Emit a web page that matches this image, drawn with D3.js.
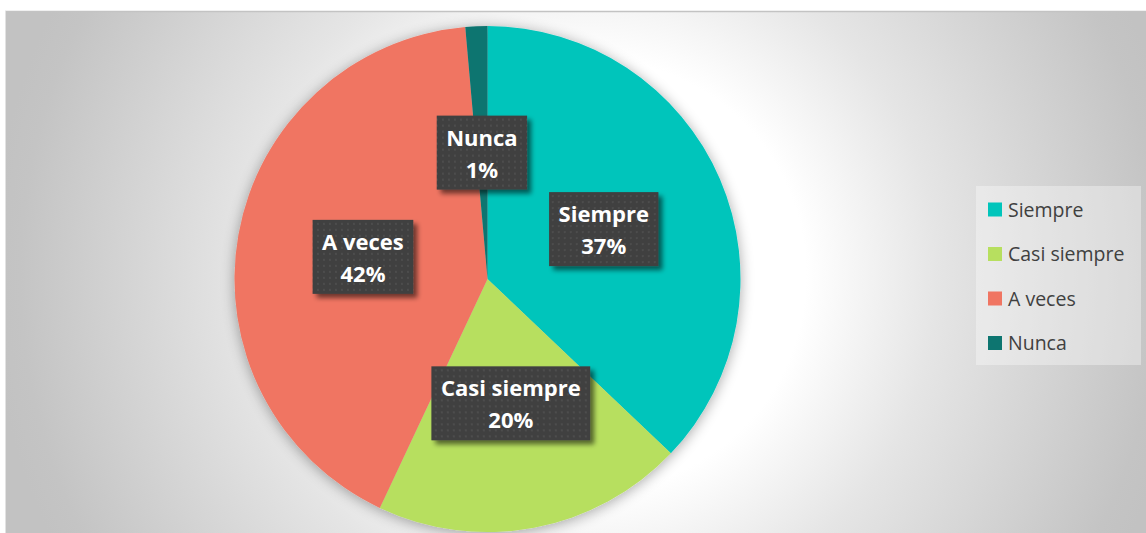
<!DOCTYPE html>
<html>
<head>
<meta charset="utf-8">
<script src="https://cdn.jsdelivr.net/npm/d3@7"></script>
<style>
  html, body { margin: 0; padding: 0; background: #ffffff; }
  svg { display: block; }
</style>
</head>
<body>
<svg id="chart" width="1146" height="533"></svg>
<script>
// ---- data ----
const categories = ["Siempre", "Casi siempre", "A veces", "Nunca"];
const values = [37.1, 19.9, 41.6, 1.4];
const percentLabels = ["37%", "20%", "42%", "1%"];
const colors = ["#01C5BB", "#B7DF5F", "#F07562", "#0D7570"];

// ---- layout ----
const W = 1146, H = 533;
const cx = 487.5, cy = 279, R = 253;

const svg = d3.select("#chart");
const defs = svg.append("defs");

// background radial gradient
const bg = defs.append("radialGradient")
  .attr("id", "bgGrad")
  .attr("gradientUnits", "userSpaceOnUse")
  .attr("cx", 590).attr("cy", 275).attr("r", 600);
[[0, "#ffffff"], [0.36, "#ffffff"], [0.58, "#e5e5e5"], [0.95, "#c4c4c4"], [1, "#c2c2c2"]]
  .forEach(([o, c]) => bg.append("stop").attr("offset", o).attr("stop-color", c));

// pie shadow
const ps = defs.append("filter").attr("id", "pieShadow")
  .attr("x", "-20%").attr("y", "-20%").attr("width", "140%").attr("height", "140%");
ps.append("feGaussianBlur").attr("in", "SourceAlpha").attr("stdDeviation", 7).attr("result", "b");
ps.append("feOffset").attr("in", "b").attr("dx", 0).attr("dy", 2).attr("result", "o");
ps.append("feComponentTransfer").attr("in", "o").attr("result", "s")
  .append("feFuncA").attr("type", "linear").attr("slope", 0.35);
const pm = ps.append("feMerge");
pm.append("feMergeNode").attr("in", "s");
pm.append("feMergeNode").attr("in", "SourceGraphic");

// label box shadow
const ls = defs.append("filter").attr("id", "boxShadow")
  .attr("x", "-20%").attr("y", "-20%").attr("width", "150%").attr("height", "150%");
ls.append("feGaussianBlur").attr("in", "SourceAlpha").attr("stdDeviation", 2.5).attr("result", "b");
ls.append("feOffset").attr("in", "b").attr("dx", 4).attr("dy", 4).attr("result", "o");
ls.append("feComponentTransfer").attr("in", "o").attr("result", "s")
  .append("feFuncA").attr("type", "linear").attr("slope", 0.55);
const lm = ls.append("feMerge");
lm.append("feMergeNode").attr("in", "s");
lm.append("feMergeNode").attr("in", "SourceGraphic");

// dotted pattern for label boxes
const pat = defs.append("pattern").attr("id", "dots")
  .attr("patternUnits", "userSpaceOnUse").attr("width", 6).attr("height", 6);
pat.append("rect").attr("width", 6).attr("height", 6).attr("fill", "#404040");
pat.append("rect").attr("x", 2).attr("y", 2).attr("width", 2).attr("height", 2).attr("fill", "#4d4d4d");

// chart area
svg.append("rect").attr("x", 5).attr("y", 11).attr("width", W - 5).attr("height", H - 11)
  .attr("fill", "url(#bgGrad)");
svg.append("line").attr("x1", 5).attr("x2", W).attr("y1", 11.5).attr("y2", 11.5)
  .attr("stroke", "#c3c3c3").attr("stroke-width", 1.5);
svg.append("line").attr("x1", 5.5).attr("x2", 5.5).attr("y1", 11).attr("y2", H)
  .attr("stroke", "#e2e2e2").attr("stroke-width", 1);

// pie
const pie = d3.pie().sort(null).value(d => d.v);
const data = pie(categories.map((c, i) => ({ c, v: values[i], p: percentLabels[i], col: colors[i] })));
const arc = d3.arc().innerRadius(0).outerRadius(R);

const g = svg.append("g").attr("transform", `translate(${cx},${cy})`);
const slices = g.append("g").attr("filter", "url(#pieShadow)");
slices.selectAll("path").data(data).join("path")
  .attr("d", arc)
  .attr("fill", d => d.data.col);

// data labels
const labels = g.append("g").selectAll("g").data(data).join("g")
  .attr("transform", d => `translate(${arc.centroid(d)})`);

const boxes = labels.append("rect").attr("fill", "url(#dots)").attr("filter", "url(#boxShadow)");
const t1 = labels.append("text").attr("text-anchor", "middle").attr("y", -7)
  .attr("font-family", "'Open Sans', sans-serif").attr("font-weight", 700).attr("font-size", 22)
  .attr("fill", "#ffffff").text(d => d.data.c);
labels.append("text").attr("text-anchor", "middle").attr("y", 25)
  .attr("font-family", "'Open Sans', sans-serif").attr("font-weight", 700).attr("font-size", 22)
  .attr("fill", "#ffffff").text(d => d.data.p);

boxes.each(function (d, i) {
  const w = t1.nodes()[i].getBBox().width + 19;
  d3.select(this).attr("x", -w / 2).attr("y", -37).attr("width", w).attr("height", 74);
});

// legend
const lx = 976, ly = 186;
svg.append("rect").attr("x", lx).attr("y", ly).attr("width", 165).attr("height", 179)
  .attr("fill", "#ffffff").attr("fill-opacity", 0.35);
const leg = svg.append("g").selectAll("g").data(data).join("g")
  .attr("transform", (d, i) => `translate(${lx + 12},${ly + 23.5 + i * 44.5})`);
leg.append("rect").attr("x", 0).attr("y", -7).attr("width", 14).attr("height", 14)
  .attr("fill", d => d.data.col);
leg.append("text").attr("x", 20).attr("y", 7)
  .attr("font-family", "'Open Sans', sans-serif").attr("font-size", 19.5)
  .attr("fill", "#404040").text(d => d.data.c);
</script>
</body>
</html>
